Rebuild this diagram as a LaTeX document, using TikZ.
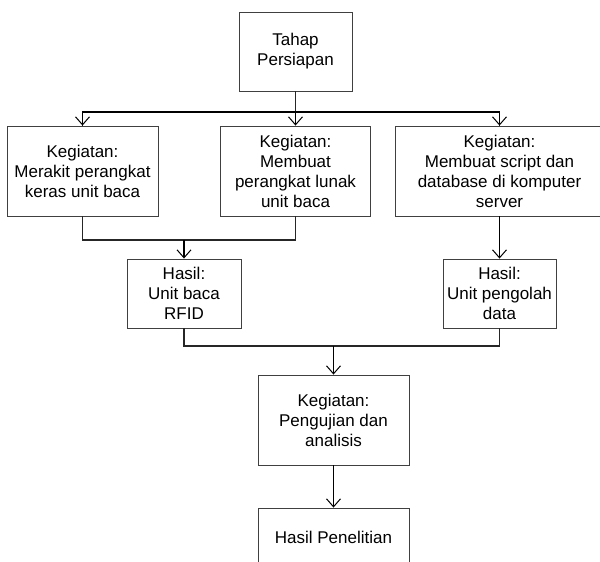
\documentclass[tikz,border=0pt]{standalone}
\usepackage{fontspec}
\setmainfont{Liberation Sans}
\usepackage{tikz}
\usetikzlibrary{arrows.meta,positioning}
\tikzset{>={Straight Barb[length=8pt,width=14pt,line width=1pt]}}

\begin{document}
\begin{tikzpicture}[x=1pt,y=-1pt,
                          box/.style={draw=black!75, line width=0.9pt, align=center, inner sep=0pt,
                                      font=\fontsize{17}{20}\selectfont},
                          link/.style={line width=1.3pt, black!85},
                          arrow/.style={line width=1.1pt, black, ->},
                         ]

\useasboundingbox (0,0) rectangle (600,562);
\clip (0,0) rectangle (600,562);

\node[box, minimum width=113pt, minimum height=79pt] (prep) at (295.5,51.5) {Tahap\\Persiapan};

\node[box, minimum width=151pt, minimum height=90pt] (keg1) at (82.5,171) {Kegiatan:\\Merakit perangkat\\keras unit baca};
\node[box, minimum width=150pt, minimum height=90pt] (keg2) at (295.5,171) {Kegiatan:\\Membuat\\perangkat lunak\\unit baca};
\node[box, minimum width=208pt, minimum height=90pt] (keg3) at (499.5,171) {Kegiatan:\\Membuat script dan\\database di komputer\\server};

\node[box, minimum width=114pt, minimum height=69pt] (hasil1) at (184,293.5) {Hasil:\\Unit baca\\RFID};
\node[box, minimum width=113pt, minimum height=69pt] (hasil2) at (499.5,293.5) {Hasil:\\Unit pengolah\\data};

\node[box, minimum width=151pt, minimum height=90pt] (uji) at (333.5,420) {Kegiatan:\\Pengujian dan\\analisis};
\node[box, minimum width=151pt, minimum height=58pt] (akhir) at (333.5,537) {Hasil Penelitian};

\coordinate (split) at (295.5,112);
\coordinate (join1) at (184,240);
\coordinate (join2) at (333.5,346);

\draw[link] (prep) -- (split);
\draw[link] (keg1) |- (split) -| (keg3);
\draw[arrow] (split) -| (keg1);
\draw[arrow] (split) -- (keg2);
\draw[arrow] (split) -| (keg3);

\draw[link] (keg1) |- (join1) -| (keg2);
\draw[arrow] (join1) -- (hasil1);
\draw[arrow] (keg3) -- (hasil2);

\draw[link] (hasil1) |- (join2) -| (hasil2);
\draw[arrow] (join2) -- (uji);
\draw[arrow] (uji) -- (akhir);

\end{tikzpicture}
\end{document}
